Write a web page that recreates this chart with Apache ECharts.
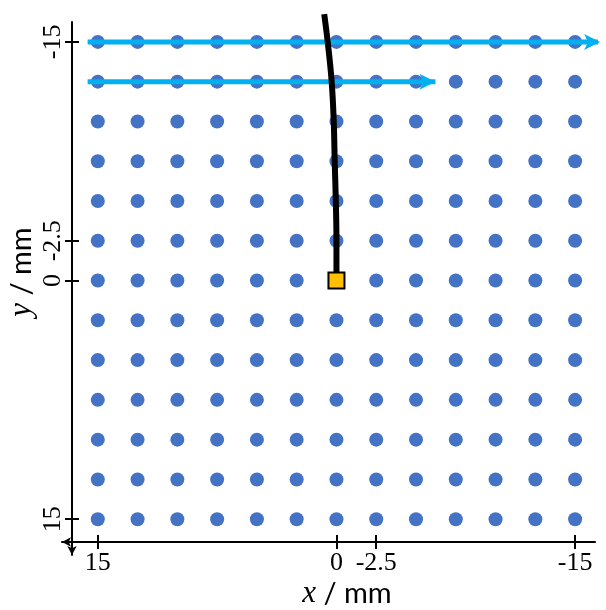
<!DOCTYPE html>
<html>
<head>
<meta charset="utf-8">
<script src="https://cdn.jsdelivr.net/npm/echarts@6/dist/echarts.min.js"></script>
<style>
  html, body { margin: 0; padding: 0; background: #fff; }
  #chart { width: 606px; height: 610px; }
</style>
</head>
<body>
<div id="chart"></div>
<script>
// Sampling grid positions (mm)
const gridX = [15, 12.5, 10, 7.5, 5, 2.5, 0, -2.5, -5, -7.5, -10, -12.5, -15];
const gridY = [-15, -12.5, -10, -7.5, -5, -2.5, 0, 2.5, 5, 7.5, 10, 12.5, 15];

// Labelled tick positions
const xTicks = [15, 0, -2.5, -15];
const yTicks = [-15, -2.5, 0, 15];

// Scan lines: [start, end] points as [x, y] in mm
const scanA = [[15.64, -15], [-16.57, -15]];
const scanB = [[15.64, -12.5], [-6.22, -12.5]];

// Trajectory from the origin
const trajX = [0, 0, 0.04, 0.11, 0.17, 0.3, 0.55, 0.77];
const trajY = [0, -2.5, -5, -7.5, -10, -12.5, -15, -16.75];

// Origin marker
const origin = [0, 0];

const dots = [];
gridY.forEach(y => gridX.forEach(x => dots.push([x, y])));
const traj = trajX.map((x, i) => [x, trajY[i]]);

const arrowItem = p => ({ value: p, symbol: 'arrow', symbolSize: [12, 16], symbolRotate: -90 });
const startItem = p => ({ value: p, symbol: 'none' });

const labelFont = { fontFamily: 'Liberation Serif', fontSize: 26, color: '#000' };
const axisRange = { type: 'value', min: -16.25, max: 17.25, inverse: true, splitLine: { show: false } };
const tickStyle = { color: '#000', width: 2 };

const chart = echarts.init(document.getElementById('chart'), null, { renderer: 'canvas' });
chart.setOption({
  animation: false,
  backgroundColor: '#fff',
  grid: { left: 62, top: 22, width: 533, height: 533, containLabel: false, outerBoundsMode: 'none' },
  xAxis: [
    Object.assign({}, axisRange, {
      position: 'bottom', offset: -13,
      axisLine: { show: true, onZero: false, symbol: ['arrow', 'none'], symbolSize: [7, 9], lineStyle: tickStyle },
      axisTick: { show: true, customValues: xTicks, length: 7, inside: false, lineStyle: tickStyle },
      axisLabel: Object.assign({ show: true, customValues: xTicks, margin: 8 }, labelFont)
    }),
    Object.assign({}, axisRange, {
      position: 'bottom', offset: -13,
      axisLine: { show: false, onZero: false },
      axisTick: { show: true, customValues: xTicks, length: 7, inside: true, lineStyle: tickStyle },
      axisLabel: { show: false }
    })
  ],
  yAxis: [
    Object.assign({}, axisRange, {
      position: 'left', offset: -10,
      axisLine: { show: true, onZero: false, symbol: ['arrow', 'none'], symbolSize: [7, 9], lineStyle: tickStyle },
      axisTick: { show: true, customValues: yTicks, length: 7, inside: false, lineStyle: tickStyle },
      axisLabel: Object.assign({ show: true, customValues: yTicks, margin: 6, rotate: 90 }, labelFont)
    }),
    Object.assign({}, axisRange, {
      position: 'left', offset: -10,
      axisLine: { show: false, onZero: false },
      axisTick: { show: true, customValues: yTicks, length: 7, inside: true, lineStyle: tickStyle },
      axisLabel: { show: false }
    })
  ],
  graphic: [
    {
      type: 'text', x: 347, y: 594, z: 10,
      style: {
        text: '{i|x} / mm',
        fontFamily: 'Lato', fontSize: 29, fill: '#000',
        align: 'center', verticalAlign: 'middle',
        rich: { i: { fontFamily: 'Liberation Serif', fontStyle: 'italic', fontSize: 31 } }
      }
    },
    {
      type: 'text', x: 22, y: 272, rotation: Math.PI / 2, z: 10,
      style: {
        text: '{i|y} / mm',
        fontFamily: 'Lato', fontSize: 29, fill: '#000',
        align: 'center', verticalAlign: 'middle',
        rich: { i: { fontFamily: 'Liberation Serif', fontStyle: 'italic', fontSize: 31 } }
      }
    }
  ],
  series: [
    {
      type: 'scatter', xAxisIndex: 0, yAxisIndex: 0, z: 2,
      data: dots, symbol: 'circle', symbolSize: 14,
      itemStyle: { color: '#4472C4', opacity: 1 }, silent: true
    },
    {
      type: 'line', xAxisIndex: 0, yAxisIndex: 0, z: 3, clip: false,
      data: [startItem(scanA[0]), arrowItem(scanA[1])],
      lineStyle: { color: '#00B0F0', width: 5 }, itemStyle: { color: '#00B0F0', opacity: 1 }
    },
    {
      type: 'line', xAxisIndex: 0, yAxisIndex: 0, z: 3, clip: false,
      data: [startItem(scanB[0]), arrowItem(scanB[1])],
      lineStyle: { color: '#00B0F0', width: 5 }, itemStyle: { color: '#00B0F0', opacity: 1 }
    },
    {
      type: 'line', xAxisIndex: 0, yAxisIndex: 0, z: 4, clip: false,
      data: traj, smooth: 0.4, symbol: 'none',
      lineStyle: { color: '#000', width: 6 }
    },
    {
      type: 'scatter', xAxisIndex: 0, yAxisIndex: 0, z: 5,
      data: [origin], symbol: 'rect', symbolSize: 16,
      itemStyle: { color: '#FFC000', borderColor: '#000', borderWidth: 2, opacity: 1 }
    }
  ]
});
</script>
</body>
</html>
